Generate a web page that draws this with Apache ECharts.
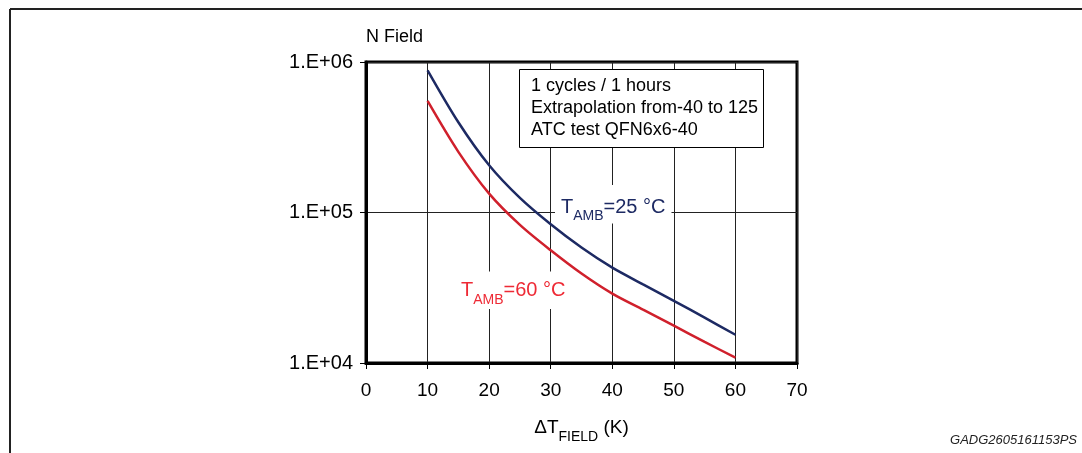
<!DOCTYPE html>
<html>
<head>
<meta charset="utf-8">
<script src="https://cdn.jsdelivr.net/npm/echarts@6/dist/echarts.min.js"></script>
<style>
html,body{margin:0;padding:0;background:#fff;}
#chart{width:1082px;height:453px;}
</style>
</head>
<body>
<div id="chart"></div>
<script>
// ---- data ----
const deltaT = [10, 15, 20, 25, 30, 35, 40, 45, 50, 55, 60];
const nField25 = [881000, 398000, 206000, 125000, 83500, 58500, 43000, 33300, 25900, 20000, 15400];
const nField60 = [551000, 253000, 133500, 82700, 56100, 39300, 28900, 22600, 17700, 13800, 10860];
const xTicks = [0, 10, 20, 30, 40, 50, 60, 70];
const yTickLabels = {4: '1.E+04', 5: '1.E+05', 6: '1.E+06'};
const noteLines = ['1 cycles / 1 hours', 'Extrapolation from-40 to 125', 'ATC test QFN6x6-40'];
const label25 = ['T', 'AMB', '=25 °C'];
const label60 = ['T', 'AMB', '=60 °C'];
const codeText = 'GADG2605161153PS';

const FONT = '"Liberation Sans", Arial, Helvetica, sans-serif';
const NAVY = '#1d2a63';
const RED = '#d0202c';
const RED_TXT = '#ee2a35';

const chart = echarts.init(document.getElementById('chart'), null, {renderer: 'canvas'});

function pairs(xs, ys) { return xs.map((x, i) => [x, ys[i]]); }

function tamb(parts, color) {
  return {
    text: '{t|' + parts[0] + '}{s|' + parts[1] + '}{t|' + parts[2] + '}',
    rich: {
      t: {fontFamily: FONT, fontSize: 20, lineHeight: 23, fill: color, verticalAlign: 'top'},
      s: {fontFamily: FONT, fontSize: 14, lineHeight: 26.5, fill: color, verticalAlign: 'bottom'}
    }
  };
}

const l25 = tamb(label25, NAVY);
const l60 = tamb(label60, RED_TXT);

const option = {
  animation: false,
  backgroundColor: '#fff',
  grid: {
    left: 366, right: 285, top: 62, bottom: 90,
    show: true, borderColor: '#000', borderWidth: 3, backgroundColor: 'transparent'
  },
  xAxis: {
    type: 'value', min: 0, max: 70, interval: 10,
    axisLine: {show: true, lineStyle: {color: '#000', width: 3}},
    axisTick: {show: true, inside: false, length: 6, lineStyle: {color: '#000', width: 1}},
    axisLabel: {color: '#000', fontFamily: FONT, fontSize: 19, margin: 18,
      formatter: v => xTicks.includes(v) ? String(v) : ''},
    splitLine: {show: true, lineStyle: {color: '#222', width: 1}},
    name: '{a|ΔT}{s|FIELD}{a| (K)}',
    nameLocation: 'middle', nameGap: 55,
    nameTextStyle: {
      rich: {
        a: {fontFamily: FONT, fontSize: 19, lineHeight: 23, color: '#000', verticalAlign: 'top'},
        s: {fontFamily: FONT, fontSize: 14, lineHeight: 26.5, color: '#000', verticalAlign: 'bottom'}
      }
    }
  },
  yAxis: {
    type: 'log', logBase: 10, min: 10000, max: 1000000,
    axisLine: {show: true, lineStyle: {color: '#000', width: 3}},
    axisTick: {show: true, inside: false, length: 6, lineStyle: {color: '#000', width: 1}},
    axisLabel: {color: '#000', fontFamily: FONT, fontSize: 20, margin: 13,
      formatter: v => yTickLabels[Math.round(Math.log10(v))] || ''},
    splitLine: {show: true, lineStyle: {color: '#222', width: 1}},
    minorTick: {show: false}, minorSplitLine: {show: false},
    name: 'N Field', nameLocation: 'end', nameGap: 16,
    nameTextStyle: {color: '#000', fontFamily: FONT, fontSize: 18, align: 'left'}
  },
  series: [
    {
      name: 'TAMB=25 °C', type: 'line', data: pairs(deltaT, nField25),
      smooth: 0.3, showSymbol: false, symbol: 'none',
      lineStyle: {color: NAVY, width: 2.5}, z: 3
    },
    {
      name: 'TAMB=60 °C', type: 'line', data: pairs(deltaT, nField60),
      smooth: 0.3, showSymbol: false, symbol: 'none',
      lineStyle: {color: RED, width: 2.5}, z: 3
    }
  ],
  graphic: [
    // outer frame (top and left edges)
    {type: 'line', shape: {x1: 10, y1: 9, x2: 1082, y2: 9}, style: {stroke: '#222', lineWidth: 2}, z: 10},
    {type: 'line', shape: {x1: 10, y1: 9, x2: 10, y2: 453}, style: {stroke: '#222', lineWidth: 2}, z: 10},
    // note box
    {type: 'rect', shape: {x: 519.5, y: 69.5, width: 244, height: 78},
      style: {fill: '#fff', stroke: '#000', lineWidth: 1}, z: 20},
    {type: 'text', x: 531, y: 86, z: 21,
      style: {text: noteLines[0], font: '18px ' + FONT, fill: '#000', verticalAlign: 'middle'}},
    {type: 'text', x: 531, y: 108, z: 21,
      style: {text: noteLines[1], font: '18px ' + FONT, fill: '#000', verticalAlign: 'middle'}},
    {type: 'text', x: 531, y: 130, z: 21,
      style: {text: noteLines[2], font: '18px ' + FONT, fill: '#000', verticalAlign: 'middle'}},
    // curve labels
    {type: 'text', x: 555, y: 185, z: 21,
      style: {text: l25.text, rich: l25.rich, backgroundColor: '#fff', padding: [12, 6, 0, 6],
        align: 'left', verticalAlign: 'top'}},
    {type: 'text', x: 455, y: 271.5, z: 21,
      style: {text: l60.text, rich: l60.rich, backgroundColor: '#fff', padding: [9, 4, 2, 6],
        align: 'left', verticalAlign: 'top'}},
    // code
    {type: 'text', x: 1077, y: 440, z: 21,
      style: {text: codeText, font: 'italic 13px ' + FONT, fill: '#222', align: 'right', verticalAlign: 'middle'}}
  ]
};

chart.setOption(option);
</script>
</body>
</html>
